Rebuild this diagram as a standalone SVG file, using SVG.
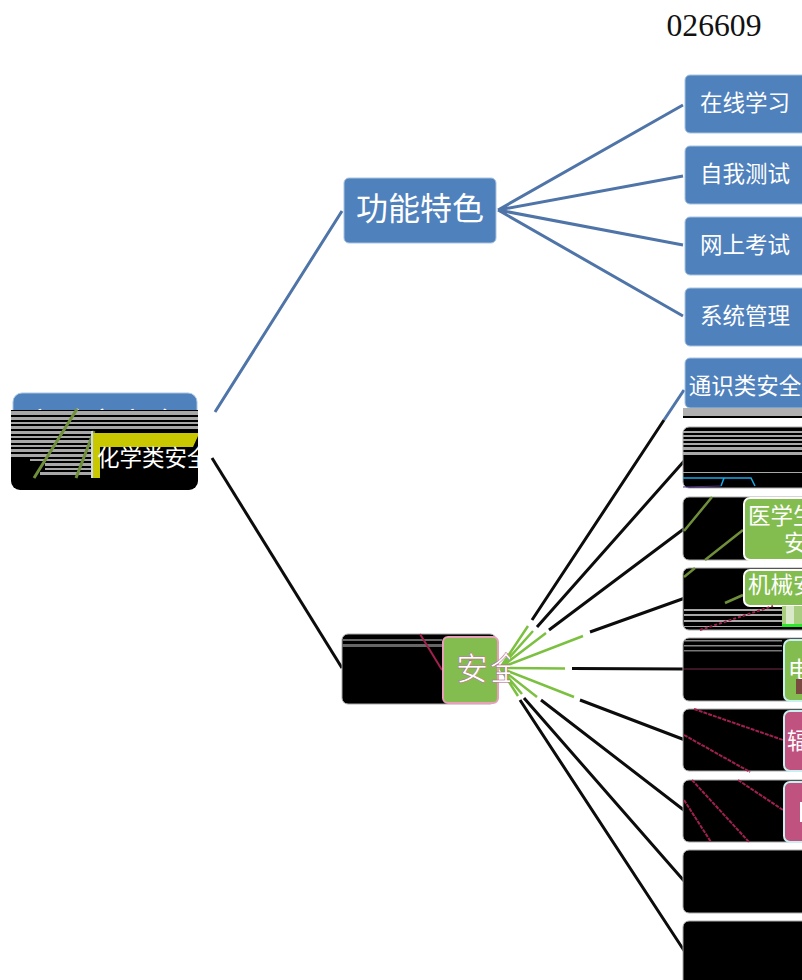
<svg xmlns="http://www.w3.org/2000/svg" width="802" height="980" viewBox="0 0 802 980">
<style>
.t{font-family:"Noto Sans CJK SC","Liberation Sans",sans-serif;fill:#fff}
.s{font-size:22.5px;text-anchor:middle}
.b{fill:#4f81bd;stroke:#a9c3e0;stroke-width:1}
.k{fill:#000;stroke:#aaa;stroke-width:1}
.g{fill:#84bd4f;stroke:#fff;stroke-width:2}
.p{fill:#c0527f;stroke:#fff;stroke-width:2}
.cb{stroke:#4f74a8;stroke-width:3;fill:none}
.ck{stroke:#0c0c0c;stroke-width:3;fill:none}
.cg{stroke:#7cc040;stroke-width:2.5;fill:none}
.gr{fill:#a8a8a8}
.dk{fill:#555}
</style>
<defs>
<clipPath id="rootclip"><rect x="11" y="400" width="187" height="90" rx="9"/></clipPath>
<clipPath id="chem"><rect x="90" y="440" width="108" height="38"/></clipPath>
<clipPath id="sclip"><rect x="485" y="640" width="25" height="46"/></clipPath>
</defs>
<text x="714" y="36" font-family="Liberation Serif, serif" font-size="32" text-anchor="middle" textLength="95" lengthAdjust="spacingAndGlyphs" fill="#111">026609</text>
<g id="connectors">
<path class="cb" d="M215 412L342 211M498 210L683 105M498 210L683 176M498 210L683 245M498 210L683 316"/>
<path class="ck" d="M212 458L342 668"/>
<path class="cb" d="M664 420L684 390"/>
<path class="ck" d="M532 620L664 420M537 627L685 460M549 630L685 528M590 632L685 598M572 668.500L685 669M580 700L685 740M541 700L685 811M524 698L685 882M520 700L685 952"/>
<path class="cg" d="M500 668L528 626M500 668L533 631M500 668L546 633M500 668L583 636M500 668L565 668.500M500 668L574 697M500 668L537 697M500 668L522 694M500 668L518 696"/>
</g>
<g id="node-features"><rect class="b" x="344" y="178" width="152" height="65" rx="5"/><text class="t" x="420" y="220" font-size="32" text-anchor="middle">功能特色</text></g>
<g id="node-online"><rect class="b" x="685" y="75" width="130" height="58" rx="5"/><text class="t s" x="745" y="111">在线学习</text></g>
<g id="node-selftest"><rect class="b" x="685" y="146" width="130" height="58" rx="5"/><text class="t s" x="745" y="182">自我测试</text></g>
<g id="node-exam"><rect class="b" x="685" y="217" width="130" height="58" rx="5"/><text class="t s" x="745" y="253">网上考试</text></g>
<g id="node-admin"><rect class="b" x="685" y="288" width="130" height="58" rx="5"/><text class="t s" x="745" y="324">系统管理</text></g>
<g id="node-root">
<rect class="b" x="13" y="393" width="184" height="60" rx="9"/>
<text class="t" x="25" y="435" font-size="31">实验室安全</text>
<g clip-path="url(#rootclip)">
<rect x="11" y="410" width="187" height="80" fill="#000"/>
<rect class="gr" x="11" y="411" width="187" height="4"/><rect class="gr" x="11" y="417" width="187" height="3"/><rect class="gr" x="11" y="422" width="187" height="2"/><rect class="gr" x="11" y="426" width="187" height="3"/><rect class="gr" x="11" y="431" width="80" height="3"/><rect class="gr" x="11" y="436" width="80" height="2"/><rect class="gr" x="11" y="440" width="80" height="3"/><rect class="gr" x="11" y="445" width="80" height="2"/><rect class="gr" x="11" y="449" width="80" height="3"/><rect class="gr" x="11" y="454" width="80" height="3"/><rect class="gr" x="30" y="459" width="61" height="2"/><rect class="gr" x="45" y="463" width="46" height="3"/><rect class="gr" x="45" y="468" width="46" height="2"/><rect class="gr" x="40" y="472" width="51" height="3"/>
<path d="M77 409L34 478M94 431L76 478" stroke="#6f8f3a" stroke-width="3" fill="none"/>
<rect x="91" y="431" width="2" height="47" fill="#cdd8ea"/>
<path d="M93 433H198V436L193 447H100V478H93Z" fill="#c9c700"/>
<text x="97" y="466" class="t" font-size="22.5" clip-path="url(#chem)">化学类安全</text>
</g>
</g>
<g id="node-safety">
<rect class="k" x="342" y="634" width="154" height="70" rx="6"/>
<rect x="342" y="639" width="100" height="2" fill="#666"/><rect x="342" y="644" width="100" height="3" fill="#666"/>
<path d="M420 634L442 670" stroke="#a0204f" stroke-width="2"/>
<rect class="g" x="443" y="637" width="55" height="66" rx="5" style="stroke:#e8a0b8"/>
<text class="t" x="456" y="680" font-size="32" stroke="#b06080" stroke-width=".5">安</text>
<text class="t" x="490" y="680" font-size="32" stroke="#b06080" stroke-width=".5" clip-path="url(#sclip)">全</text>
</g>
<g id="node-general"><rect class="b" x="685" y="358" width="130" height="50" rx="5"/><text class="t s" x="745" y="394">通识类安全</text><rect x="683" y="408" width="119" height="10" fill="#b0b0b0"/><rect x="683" y="416" width="119" height="2" fill="#000"/></g>
<g id="node-k2"><rect class="k" x="683" y="427" width="130" height="61" rx="6"/>
<rect class="gr" x="683" y="431" width="119" height="2"/><rect class="gr" x="683" y="435" width="119" height="2"/><rect class="gr" x="683" y="439" width="119" height="2"/><rect class="gr" x="683" y="443" width="119" height="2"/><rect class="gr" x="683" y="447" width="119" height="3"/><rect class="gr" x="683" y="452" width="119" height="3"/><rect class="gr" x="683" y="472" width="119" height="1"/>
<path d="M683 478H724L721 486M724 478H751L755 486" stroke="#1aa8e8" stroke-width="1.5" fill="none"/><path d="M721 486L683 487" stroke="#4a2a8a"/></g>
<g id="node-med"><rect class="k" x="683" y="497" width="130" height="63" rx="6"/>
<path d="M684 531L712 497M705 560L743 530" stroke="#6f8f3a" stroke-width="2.5"/>
<rect class="g" x="744" y="498" width="70" height="62" rx="6"/><text class="t" font-size="22.5" x="748" y="524">医学生</text><text class="t" font-size="22.5" x="784" y="551">安</text></g>
<g id="node-mech"><rect class="k" x="683" y="568" width="130" height="62" rx="6"/>
<path d="M684 577L695 568M725 603L743 595" stroke="#6f8f3a" stroke-width="2.5"/>
<rect class="g" x="744" y="570" width="70" height="36" rx="6"/><text class="t" font-size="22.5" x="748" y="593">机械安全</text>
<rect class="gr" x="684" y="609" width="98" height="2"/><rect class="gr" x="684" y="614" width="98" height="2"/><rect class="gr" x="684" y="620" width="98" height="2"/><rect class="gr" x="684" y="626" width="98" height="1"/>
<rect x="782" y="606" width="20" height="20" fill="#a8cc80"/><rect x="786" y="606" width="8" height="20" fill="#d8e8c8"/>
<rect x="782" y="624" width="20" height="3" fill="#2be82b"/>
<path d="M700 630L773 606" stroke="#a0204f" stroke-width="2" stroke-dasharray="3 2"/></g>
<g id="node-elec"><rect class="k" x="683" y="638" width="130" height="63" rx="6"/>
<rect x="684" y="640" width="98" height="1.500" fill="#888"/><rect x="684" y="645" width="98" height="1.500" fill="#888"/><rect x="684" y="650" width="98" height="1.500" fill="#777"/><rect x="684" y="668" width="100" height="2" fill="#3a1525"/>
<rect class="g" x="784" y="640" width="30" height="61" rx="6" style="stroke:#c8f0f0"/><text class="t" font-size="22.5" x="788" y="678">电</text><rect x="796" y="679" width="6" height="15" fill="#7a4a40"/></g>
<g id="node-rad"><rect class="k" x="683" y="709" width="130" height="62" rx="6"/>
<path d="M694 709L783 740M684 735L750 772" stroke="#a0204f" stroke-width="2" stroke-dasharray="4 1"/>
<rect class="p" x="784" y="711" width="30" height="60" rx="6" style="stroke:#c8f0f0"/><text class="t" font-size="22.5" x="787" y="749">辐</text></g>
<g id="node-bio"><rect class="k" x="683" y="780" width="130" height="62" rx="6"/>
<path d="M684 800L711 842M692 780L749 842M738 780L783 810" stroke="#a0204f" stroke-width="2" stroke-dasharray="4 1"/>
<rect class="p" x="784" y="782" width="30" height="60" rx="6" style="stroke:#c8f0f0"/><rect x="800" y="802" width="2" height="20" fill="#fff"/></g>
<g id="node-k8"><rect class="k" x="683" y="850" width="130" height="63" rx="6"/></g>
<g id="node-k9"><rect class="k" x="683" y="921" width="130" height="70" rx="6"/></g>
</svg>
